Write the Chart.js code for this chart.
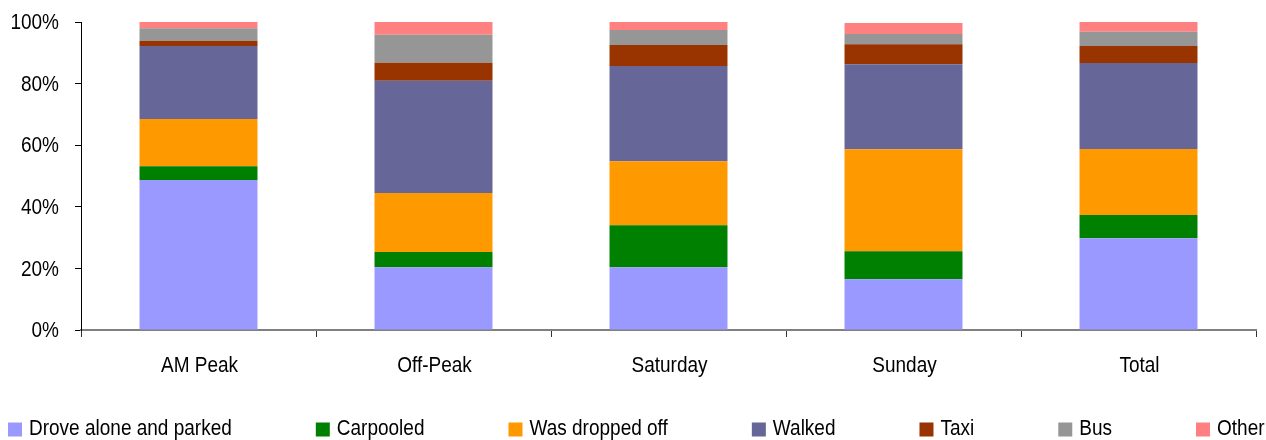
<!DOCTYPE html>
<html>
<head>
<meta charset="utf-8">
<script src="https://cdn.jsdelivr.net/npm/chart.js@4/dist/chart.umd.min.js"></script>
<style>
html,body{margin:0;padding:0;background:#fff;}
#wrap{width:1266px;height:440px;position:relative;}
</style>
</head>
<body>
<div id="wrap"><canvas id="c" width="1266" height="440"></canvas></div>
<script>
const categories = ["AM Peak", "Off-Peak", "Saturday", "Sunday", "Total"];
const droveAlone = [48.7, 20.4, 20.4, 16.5, 29.8];
const carpooled = [4.5, 4.9, 13.6, 9.1, 7.5];
const droppedOff = [15.3, 19.2, 20.8, 33.1, 21.5];
const walked = [23.7, 36.4, 30.9, 27.6, 27.9];
const taxi = [1.6, 5.9, 6.8, 6.5, 5.5];
const bus = [4.2, 9.1, 4.9, 3.3, 4.6];
const other = [2.0, 4.1, 2.6, 3.6, 3.2];
const yTicks = [0, 20, 40, 60, 80, 100];

const FONT = "'Liberation Sans', Arial, sans-serif";
const STRETCH = 1.17;
const series = [
  ["Drove alone and parked", droveAlone, "#9999FF"],
  ["Carpooled", carpooled, "#008000"],
  ["Was dropped off", droppedOff, "#FF9900"],
  ["Walked", walked, "#666699"],
  ["Taxi", taxi, "#993300"],
  ["Bus", bus, "#969696"],
  ["Other", other, "#FF8080"]
];

function stretchedText(ctx, text, x, y, align, baseline) {
  ctx.save();
  ctx.translate(x, y);
  ctx.scale(1, STRETCH);
  ctx.textAlign = align;
  ctx.textBaseline = baseline;
  ctx.fillText(text, 0, 0);
  ctx.restore();
}

const labelsPlugin = {
  id: 'stretchedLabels',
  afterDraw(chart) {
    const ctx = chart.ctx;
    const xs = chart.scales.x, ys = chart.scales.y;
    ctx.save();
    ctx.fillStyle = '#000';
    // y tick labels
    ctx.font = "19px " + FONT;
    yTicks.forEach(v => {
      stretchedText(ctx, v + '%', ys.right - 22, ys.getPixelForValue(v) + 1, 'right', 'middle');
    });
    // x category labels
    ctx.font = "19px " + FONT;
    categories.forEach((c, i) => {
      stretchedText(ctx, c, xs.getPixelForValue(i) + 1, 372, 'center', 'alphabetic');
    });
    // legend
    ctx.font = "19px " + FONT;
    let x = 8;
    chart.data.datasets.forEach(ds => {
      ctx.fillStyle = ds.backgroundColor;
      ctx.fillRect(x, 422.5, 14, 14);
      ctx.fillStyle = '#000';
      const tx = x + 21;
      stretchedText(ctx, ds.label, tx, 435, 'left', 'alphabetic');
      x = tx + ctx.measureText(ds.label).width + 84;
    });
    ctx.restore();
  }
};

new Chart(document.getElementById('c'), {
  type: 'bar',
  data: {
    labels: categories,
    datasets: series.map(s => ({
      label: s[0], data: s[1], backgroundColor: s[2], borderWidth: 0,
      categoryPercentage: 1.0, barPercentage: 0.502
    }))
  },
  plugins: [labelsPlugin],
  options: {
    responsive: false,
    animation: false,
    devicePixelRatio: 1,
    layout: { padding: { left: 0, right: 10, top: 22, bottom: 0 } },
    plugins: {
      tooltip: { enabled: false },
      legend: { display: false }
    },
    scales: {
      x: {
        stacked: true,
        grid: { offset: true, drawOnChartArea: false, tickLength: 7, color: '#333', lineWidth: 1 },
        border: { color: '#808080', width: 2 },
        ticks: { display: false },
        afterFit: (s) => { s.height = 110; }
      },
      y: {
        stacked: true,
        min: 0, max: 100,
        afterBuildTicks: (axis) => { axis.ticks = yTicks.map(v => ({ value: v })); },
        grid: { drawOnChartArea: false, tickLength: 6, color: '#000', lineWidth: 1 },
        border: { color: '#000', width: 1 },
        ticks: { display: false },
        afterFit: (s) => { s.width = 81; }
      }
    }
  }
});
</script>
</body>
</html>
